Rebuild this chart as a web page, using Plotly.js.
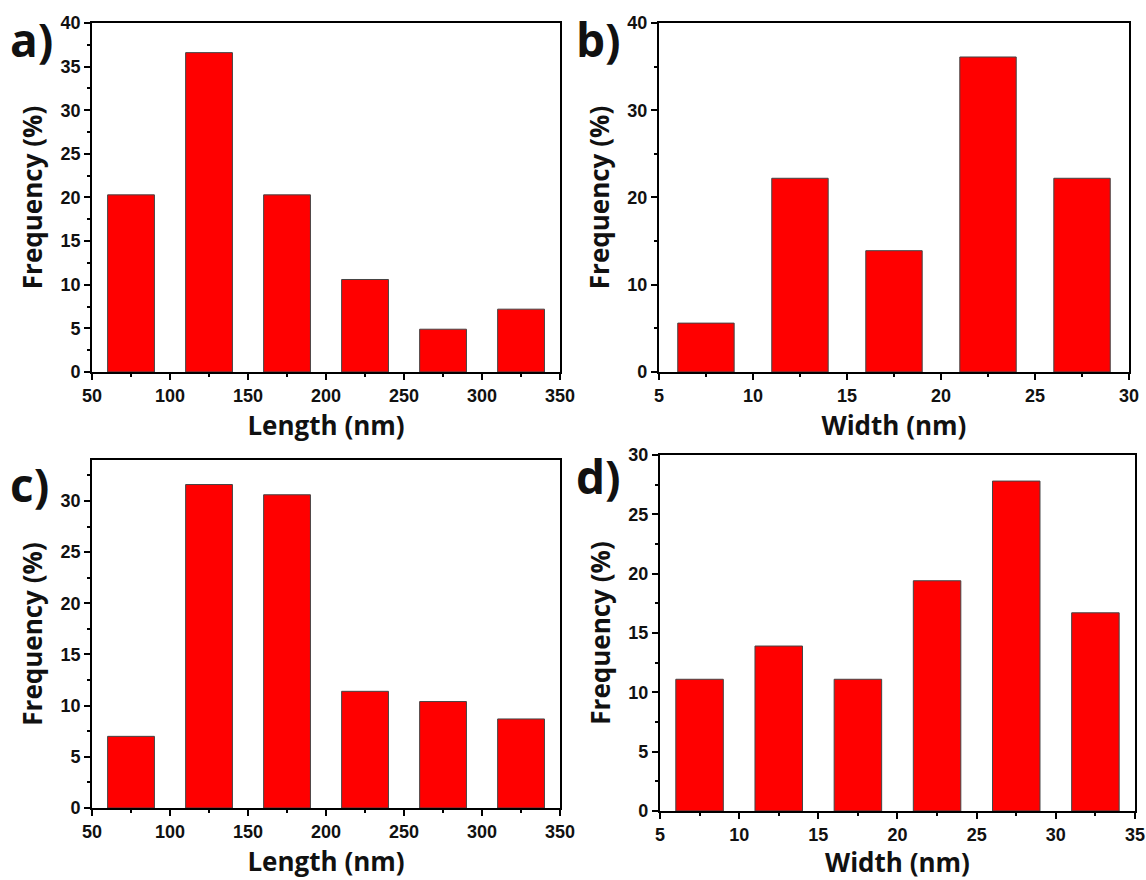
<!DOCTYPE html>
<html>
<head>
<meta charset="utf-8">
<script src="https://cdn.plot.ly/plotly-3.0.1.min.js"></script>
<style>html,body{margin:0;padding:0;background:#fff;}#chart{width:1146px;height:880px;}</style>
</head>
<body>
<div id="chart"></div>
<script>
// Panel a: length distribution
const lengthCentersA = [75, 125, 175, 225, 275, 325];
const freqA = [20.3, 36.6, 20.3, 10.6, 4.9, 7.2];
// Panel b: width distribution
const widthCentersB = [7.5, 12.5, 17.5, 22.5, 27.5];
const freqB = [5.6, 22.2, 13.9, 36.1, 22.2];
// Panel c: length distribution
const lengthCentersC = [75, 125, 175, 225, 275, 325];
const freqC = [7.0, 31.6, 30.6, 11.4, 10.4, 8.7];
// Panel d: width distribution
const widthCentersD = [7.5, 12.5, 17.5, 22.5, 27.5, 32.5];
const freqD = [11.1, 13.9, 11.1, 19.4, 27.8, 16.7];

const panelLabels = ['a)', 'b)', 'c)', 'd)'];
const xTitles = ['Length (nm)', 'Width (nm)', 'Length (nm)', 'Width (nm)'];
const yTitle = 'Frequency (%)';

const barStyle = {color: '#ff0000', line: {color: '#444444', width: 1}};
function bars(x, y, w, xa, ya) {
  return {type: 'bar', x: x, y: y, width: w, marker: barStyle, xaxis: xa, yaxis: ya, showlegend: false, hoverinfo: 'x+y'};
}
const data = [
  bars(lengthCentersA, freqA, 30, 'x', 'y'),
  bars(widthCentersB, freqB, 3, 'x2', 'y2'),
  bars(lengthCentersC, freqC, 30, 'x3', 'y3'),
  bars(widthCentersD, freqD, 3, 'x4', 'y4')
];

const tickFont = {family: '"Liberation Sans", Arial, sans-serif', size: 18, color: '#111', weight: 'bold'};
const titleFont = {family: '"Open Sans", "Noto Sans", sans-serif', size: 26, color: '#111', weight: 'bold'};

function axis(domain, range, dtick, minor, anchor, title, standoff, tick0) {
  return {
    domain: domain, range: range, anchor: anchor, dtick: dtick, tick0: tick0,
    showline: true, linecolor: '#000', linewidth: 2, mirror: true,
    ticks: 'outside', ticklen: 6, tickwidth: 2, tickcolor: '#000',
    minor: {dtick: minor, ticks: 'outside', ticklen: 3, tickwidth: 2, tickcolor: '#000', showgrid: false},
    showgrid: false, zeroline: false,
    tickfont: tickFont,
    title: {text: title, font: titleFont, standoff: standoff}
  };
}

const layout = {
  width: 1146, height: 880,
  margin: {l: 0, r: 0, t: 0, b: 0},
  paper_bgcolor: '#fff', plot_bgcolor: '#fff',
  bargap: 0,
  xaxis:  axis([0.0803, 0.4887], [50, 350], 50, 25, 'y', xTitles[0], 12, 50),
  yaxis:  axis([0.5773, 0.9739], [0, 40], 5, 2.5, 'x', yTitle, 10, 0),
  xaxis2: axis([0.5750, 0.9852], [5, 30], 5, 2.5, 'y2', xTitles[1], 12, 5),
  yaxis2: axis([0.5773, 0.9739], [0, 40], 10, 5, 'x2', yTitle, 10, 0),
  xaxis3: axis([0.0803, 0.4887], [50, 350], 50, 25, 'y3', xTitles[2], 12, 50),
  yaxis3: axis([0.0818, 0.4773], [0, 34], 5, 2.5, 'x3', yTitle, 10, 0),
  xaxis4: axis([0.5759, 0.9904], [5, 35], 5, 2.5, 'y4', xTitles[3], 12, 5),
  yaxis4: axis([0.0784, 0.4830], [0, 30], 5, 2.5, 'x4', yTitle, 10, 0),
  annotations: [
    {text: panelLabels[0], x: 8 / 1146, y: 1 - 6 / 880},
    {text: panelLabels[1], x: 574 / 1146, y: 1 - 6 / 880},
    {text: panelLabels[2], x: 8 / 1146, y: 1 - 451 / 880},
    {text: panelLabels[3], x: 574 / 1146, y: 1 - 443 / 880}
  ].map(a => Object.assign(a, {xref: 'paper', yref: 'paper', xanchor: 'left', yanchor: 'top', showarrow: false,
    font: {family: '"Open Sans", "Noto Sans", sans-serif', size: 46, color: '#111', weight: 'bold'}}))
};

Plotly.newPlot('chart', data, layout, {displayModeBar: false, staticPlot: true});
</script>
</body>
</html>
